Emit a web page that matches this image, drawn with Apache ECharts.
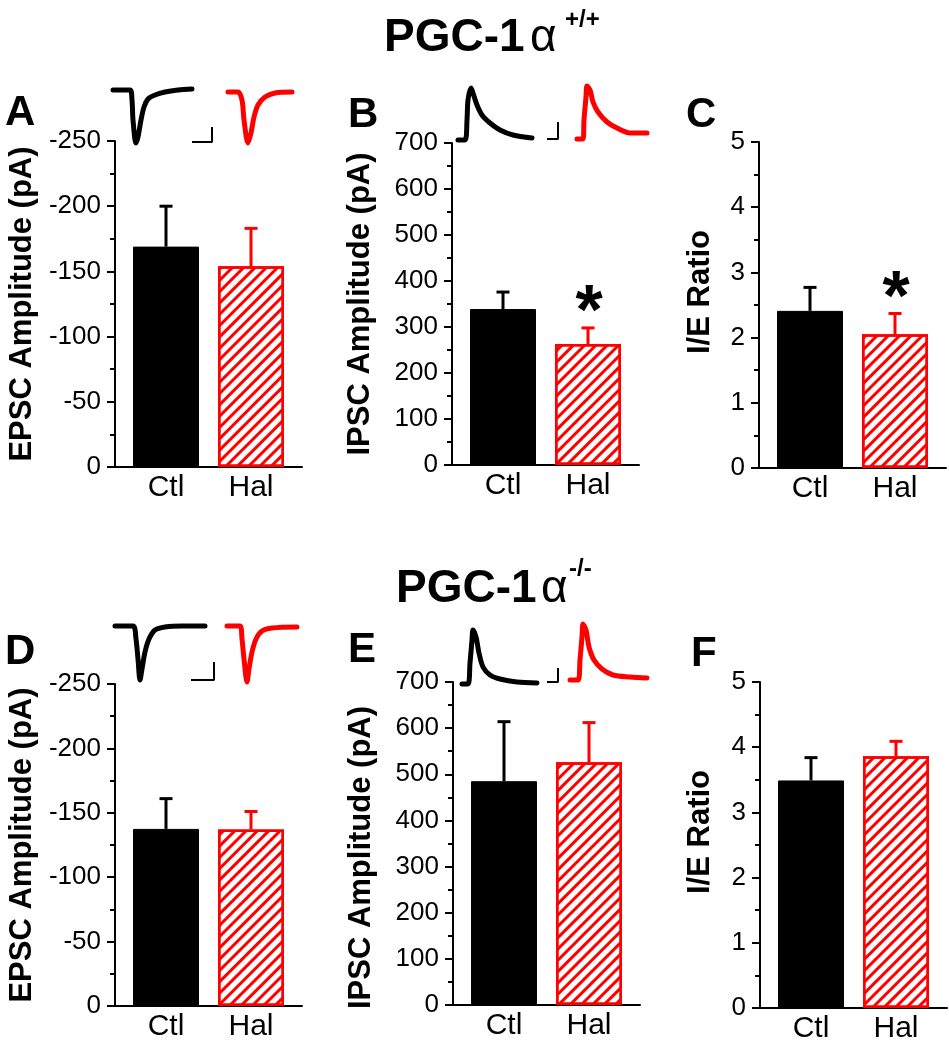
<!DOCTYPE html>
<html>
<head>
<meta charset="utf-8">
<script src="https://cdn.jsdelivr.net/npm/echarts@6/dist/echarts.min.js"></script>
<style>
html,body{margin:0;padding:0;background:#fff;}
#chart{width:949px;height:1050px;}
</style>
</head>
<body>
<div id="chart"></div>
<script>
// ---------- DATA ----------
const groups = ['Ctl', 'Hal'];
const groupPos = [1, 2];

// PGC-1a +/+
const epscWT = [-169, -154];
const epscWTErr = [31, 29];
const ipscWT = [339, 263];
const ipscWTErr = [37, 35];
const ieWT = [2.41, 2.05];
const ieWTErr = [0.36, 0.32];
const sigEpscWT = [0, 0];
const sigIpscWT = [0, 1];
const sigIeWT = [0, 1];

// PGC-1a -/-
const epscKO = [-137.5, -137];
const epscKOErr = [23.5, 14];
const ipscKO = [485, 526];
const ipscKOErr = [129, 86];
const ieKO = [3.49, 3.86];
const ieKOErr = [0.35, 0.23];
const sigEpscKO = [0, 0];
const sigIpscKO = [0, 0];
const sigIeKO = [0, 0];

// y tick labels
const epscTicks = [-250, -200, -150, -100, -50, 0];
const ipscTicks = [0, 100, 200, 300, 400, 500, 600, 700];
const ieTicks = [0, 1, 2, 3, 4, 5];

// example traces [time, current] (arbitrary units)
const traceA_ctl = [[8,0],[25,0],[27,-10],[28,-30],[31,-53],[33,-47],[36,-30],[39,-17],[43,-9],[50,-5],[60,-2],[73,0],[87,1]];
const traceA_hal = [[123,-2],[133,-2],[137,-10],[139,-30],[143,-53],[146,-43],[149,-27],[153,-15],[160,-7],[170,-3],[187,-2]];
const scaleA = [[87,-52],[107,-52],[107,-37]];

const traceB_ctl = [[8,0],[15,0],[17,20],[18,40],[21,52],[23,47],[27,35],[32,25],[40,17],[50,10],[63,5],[82,2]];
const traceB_hal = [[127,1],[133,1],[134,20],[136,43],[137,54],[140,50],[143,38],[148,28],[157,18],[167,12],[180,7],[197,7]];
const scaleB = [[97,1],[108,1],[108,18]];

const traceD_ctl = [[10,0],[28,0],[31,-13],[33,-33],[35,-54],[37,-43],[40,-26],[44,-13],[50,-4],[60,-1],[77,0],[100,0]];
const traceD_hal = [[122,0],[135,0],[137,-13],[139,-33],[142,-56],[144,-43],[147,-26],[151,-13],[157,-5],[167,-2],[192,-1]];
const scaleD = [[86,-54],[109,-54],[109,-36]];

const traceE_ctl = [[12,0],[18,0],[20,21],[22,44],[23,54],[26,47],[29,31],[33,17],[40,9],[50,5],[67,2],[87,1]];
const traceE_hal = [[120,4],[128,4],[130,24],[132,47],[133,60],[136,54],[139,37],[144,24],[152,15],[163,9],[180,7],[197,6]];
const scaleE = [[97,2],[108,2],[108,16]];

// ---------- STYLE / LAYOUT ----------
const FONT = "'Liberation Sans', Arial, Helvetica, sans-serif";
const RED = '#ff0000';
const errColors = ['#000000', RED];

const panels = [
  {grid:{left:115, top:141, width:187, height:326}, mean:epscWT, err:epscWTErr, sig:sigEpscWT, ticks:epscTicks, inverse:true, name:'EPSC Amplitude (pA)', nameGap:77, namePad:[0,0,0,0]},
  {grid:{left:452, top:143, width:187, height:322}, mean:ipscWT, err:ipscWTErr, sig:sigIpscWT, ticks:ipscTicks, inverse:false, name:'IPSC Amplitude (pA)', nameGap:76, namePad:[0,0,0,0]},
  {grid:{left:759, top:142, width:187, height:326}, mean:ieWT, err:ieWTErr, sig:sigIeWT, ticks:ieTicks, inverse:false, name:'I/E Ratio', nameGap:43, namePad:[0,0,0,26]},
  {grid:{left:115, top:684, width:187, height:322}, mean:epscKO, err:epscKOErr, sig:sigEpscKO, ticks:epscTicks, inverse:true, name:'EPSC Amplitude (pA)', nameGap:77, namePad:[0,0,0,0]},
  {grid:{left:453, top:682, width:187, height:323}, mean:ipscKO, err:ipscKOErr, sig:sigIpscKO, ticks:ipscTicks, inverse:false, name:'IPSC Amplitude (pA)', nameGap:76, namePad:[0,28,0,0]},
  {grid:{left:760, top:682, width:187, height:326}, mean:ieKO, err:ieKOErr, sig:sigIeKO, ticks:ieTicks, inverse:false, name:'I/E Ratio', nameGap:44, namePad:[0,0,0,26]}
];

const insets = [
  {grid:{left:105, top:80, width:200, height:75}, x:[0,200], y:[-65,10], ctl:traceA_ctl, hal:traceA_hal, bar:scaleA},
  {grid:{left:450, top:80, width:200, height:70}, x:[0,200], y:[-10,60], ctl:traceB_ctl, hal:traceB_hal, bar:scaleB},
  {grid:{left:105, top:612, width:200, height:75}, x:[0,200], y:[-61,14], ctl:traceD_ctl, hal:traceD_hal, bar:scaleD},
  {grid:{left:450, top:620, width:200, height:70}, x:[0,200], y:[-6,64], ctl:traceE_ctl, hal:traceE_hal, bar:scaleE}
];

const letters = [
  {t:'A', left:5, top:92}, {t:'B', left:348, top:94}, {t:'C', left:686, top:94},
  {t:'D', left:5, top:631}, {t:'E', left:348, top:629}, {t:'F', left:691, top:633}
];

const grids = [], xAxes = [], yAxes = [], series = [];

const hatch = {
  symbol: 'rect', symbolSize: 1, color: RED, backgroundColor: null,
  dashArrayX: [1, 0], dashArrayY: [2.6, 4.4], rotation: -Math.PI / 4
};

panels.forEach((p, i) => {
  grids.push(Object.assign({}, p.grid));
  xAxes.push({
    type: 'value', gridIndex: i, min: 0.4, max: 2.6,
    axisLine: {show: true, onZero: false, lineStyle: {color: '#000', width: 2}},
    axisTick: {show: false}, splitLine: {show: false},
    axisLabel: {
      show: true, customValues: groupPos, margin: 6,
      formatter: v => groups[groupPos.indexOf(Math.round(v))] || '',
      color: '#000', fontSize: 30, fontFamily: FONT
    }
  });
  const tmin = Math.min.apply(null, p.ticks), tmax = Math.max.apply(null, p.ticks);
  yAxes.push({
    type: 'value', gridIndex: i, min: tmin, max: tmax,
    interval: (tmax - tmin) / (p.ticks.length - 1), inverse: p.inverse,
    axisLine: {show: true, lineStyle: {color: '#000', width: 2}},
    axisTick: {show: true, inside: false, length: 8, lineStyle: {color: '#000', width: 2}},
    minorTick: {show: true, splitNumber: 2, length: 5, lineStyle: {color: '#000', width: 2}},
    splitLine: {show: false},
    axisLabel: {color: '#000', fontSize: 26, fontFamily: FONT, margin: 14},
    name: p.name, nameLocation: 'middle', nameGap: p.nameGap,
    nameTextStyle: {color: '#000', fontSize: 31, fontWeight: 'bold', fontFamily: FONT, padding: p.namePad}
  });
  series.push({
    type: 'bar', xAxisIndex: i, yAxisIndex: i, barWidth: 66, z: 2,
    data: p.mean.map((m, k) => ({
      value: [groupPos[k], m],
      itemStyle: k === 0
        ? {color: '#000', borderColor: '#000', borderWidth: 1}
        : {color: '#fff', borderColor: RED, borderWidth: 2.5, decal: hatch}
    }))
  });
  series.push({
    type: 'custom', xAxisIndex: i, yAxisIndex: i, z: 5,
    data: p.mean.map((m, k) => [groupPos[k], m, p.err[k], p.sig[k]]),
    encode: {x: 0, y: 1},
    renderItem: function (params, api) {
      const k = params.dataIndex;
      const x = api.value(0), m = api.value(1), e = api.value(2), s = api.value(3);
      const tip = m < 0 ? m - e : m + e;
      const b = api.coord([x, m]);
      const t = api.coord([x, tip]);
      const col = errColors[k];
      const children = [
        {type: 'line', shape: {x1: b[0], y1: b[1], x2: t[0], y2: t[1]}, style: {stroke: col, lineWidth: 3}},
        {type: 'line', shape: {x1: t[0] - 6.5, y1: t[1], x2: t[0] + 6.5, y2: t[1]}, style: {stroke: col, lineWidth: 3}}
      ];
      if (s) {
        children.push({type: 'text', x: t[0] + 1, y: t[1] + 22,
          style: {text: '*', fill: '#000', font: 'bold 70px ' + FONT, align: 'center', verticalAlign: 'bottom'}});
      }
      return {type: 'group', children: children};
    }
  });
});

insets.forEach((ins, j) => {
  const gi = panels.length + j;
  grids.push(Object.assign({}, ins.grid));
  xAxes.push({type: 'value', gridIndex: gi, min: ins.x[0], max: ins.x[1], show: false});
  yAxes.push({type: 'value', gridIndex: gi, min: ins.y[0], max: ins.y[1], show: false});
  series.push({type: 'line', xAxisIndex: gi, yAxisIndex: gi, data: ins.ctl, symbol: 'none', smooth: 0.3, clip: false,
    lineStyle: {color: '#000', width: 5, cap: 'round', join: 'round'}, z: 3});
  series.push({type: 'line', xAxisIndex: gi, yAxisIndex: gi, data: ins.hal, symbol: 'none', smooth: 0.3, clip: false,
    lineStyle: {color: RED, width: 5, cap: 'round', join: 'round'}, z: 3});
  series.push({type: 'line', xAxisIndex: gi, yAxisIndex: gi, data: ins.bar, symbol: 'none', smooth: false, clip: false,
    lineStyle: {color: '#000', width: 2}, z: 3});
});

const titles = [
  {text: 'PGC-1', left: 384, top: 15, padding: 0, textStyle: {fontSize: 46, fontWeight: 'bold', fontFamily: FONT, color: '#000'}},
  {text: 'α', left: 530, top: 15, padding: 0, textStyle: {fontSize: 46, fontWeight: 'normal', fontFamily: FONT, color: '#000'}},
  {text: '+/+', left: 565, top: 8, padding: 0, textStyle: {fontSize: 24, fontWeight: 'bold', fontFamily: FONT, color: '#000'}},
  {text: 'PGC-1', left: 396, top: 566, padding: 0, textStyle: {fontSize: 46, fontWeight: 'bold', fontFamily: FONT, color: '#000'}},
  {text: 'α', left: 541, top: 566, padding: 0, textStyle: {fontSize: 46, fontWeight: 'normal', fontFamily: FONT, color: '#000'}},
  {text: '-/-', left: 569, top: 557, padding: 0, textStyle: {fontSize: 24, fontWeight: 'bold', fontFamily: FONT, color: '#000'}}
].concat(letters.map(l => ({text: l.t, left: l.left, top: l.top, padding: 0,
  textStyle: {fontSize: 42, fontWeight: 'bold', fontFamily: FONT, color: '#000'}})));

const chart = echarts.init(document.getElementById('chart'), null, {renderer: 'canvas'});
chart.setOption({
  animation: false,
  backgroundColor: '#fff',
  title: titles,
  grid: grids,
  xAxis: xAxes,
  yAxis: yAxes,
  series: series
});
</script>
</body>
</html>
